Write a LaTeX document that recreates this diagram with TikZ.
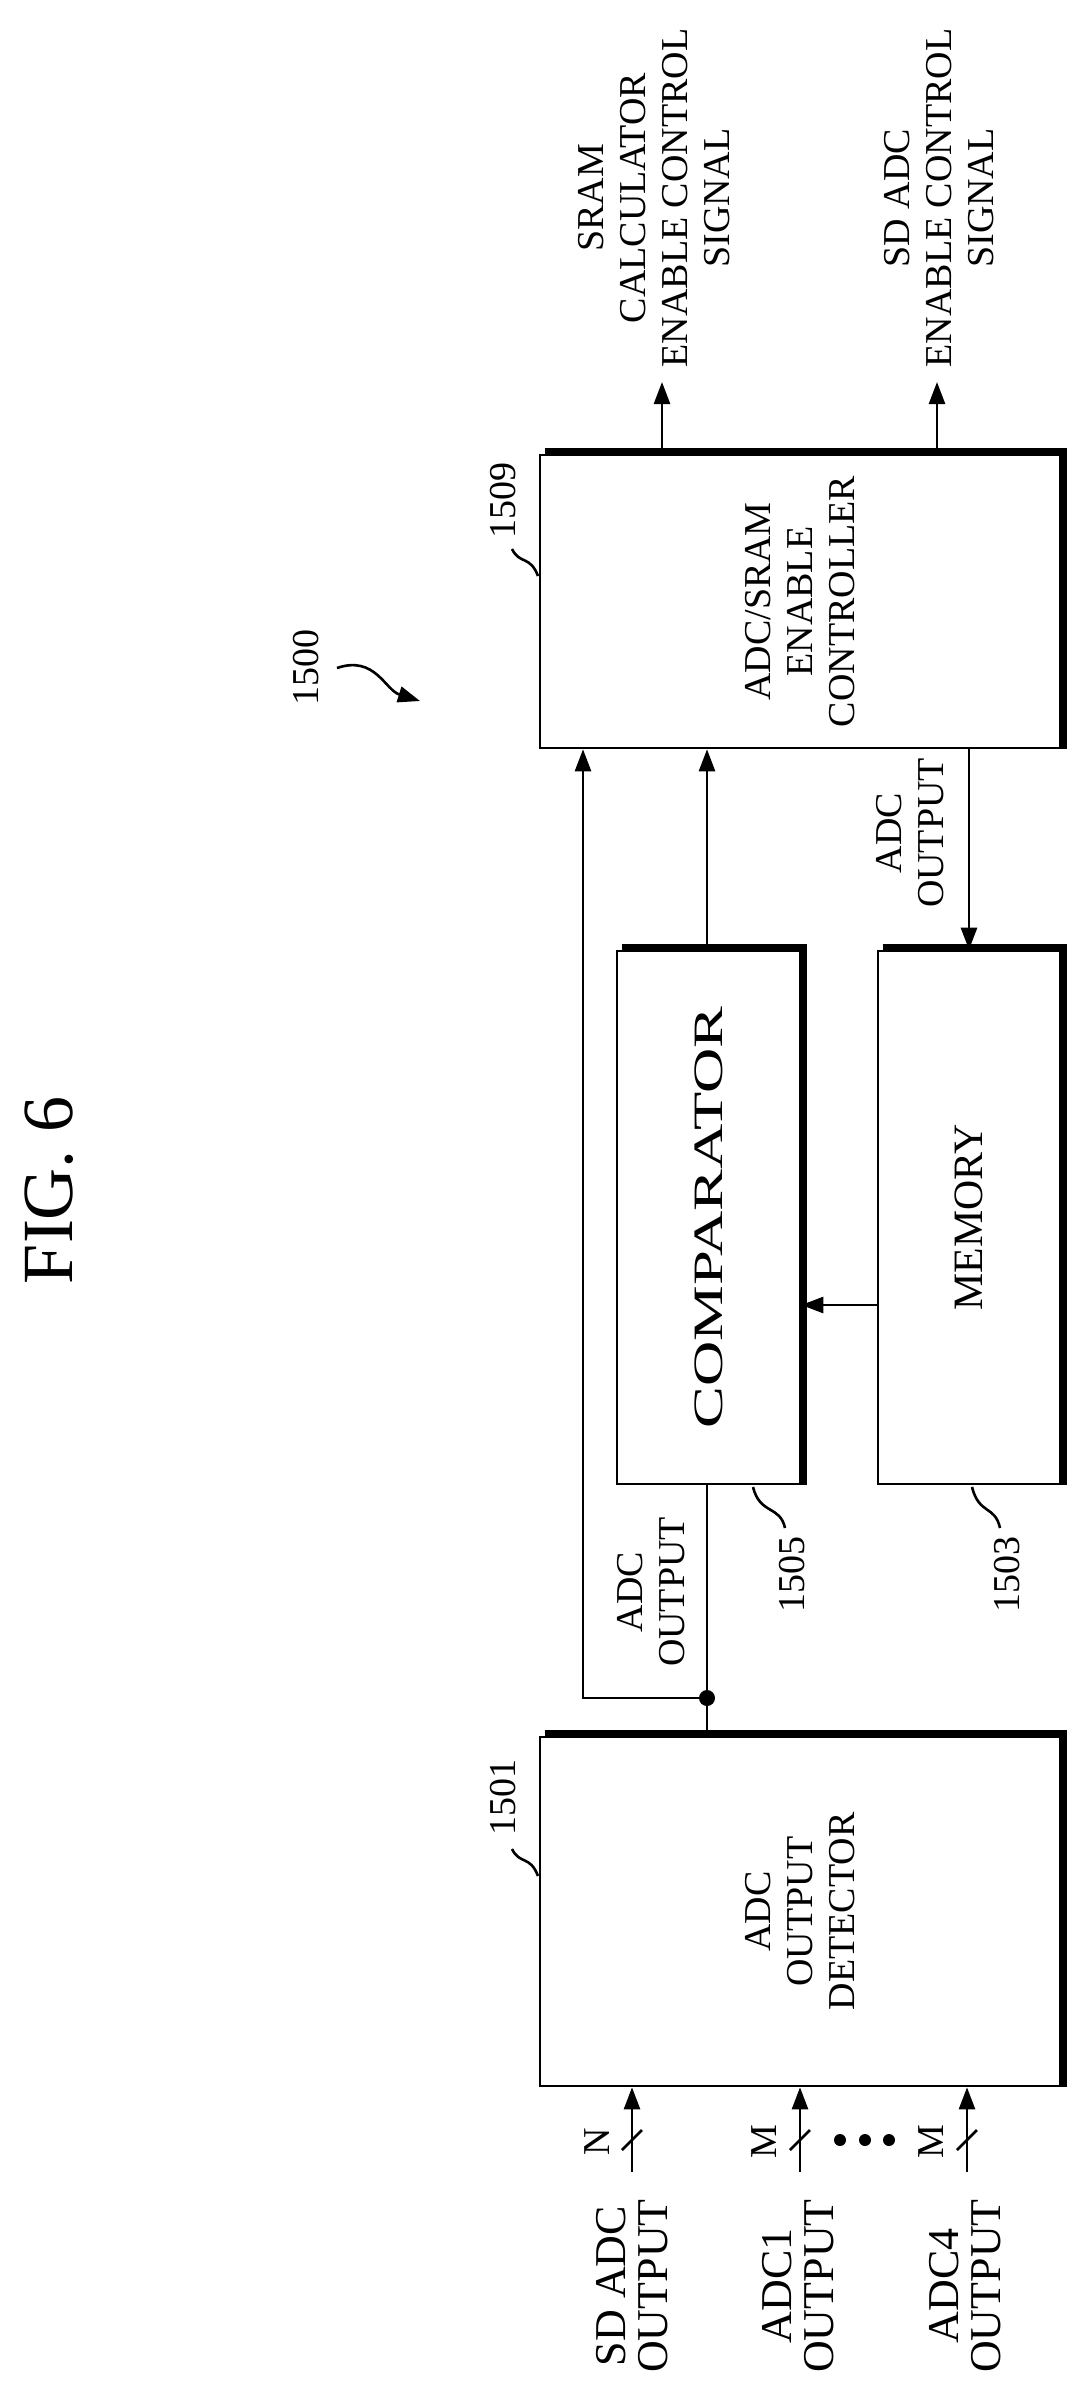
\documentclass[tikz,border=0pt]{standalone}
\usepackage{fontspec}
\setmainfont{Liberation Serif}
\usetikzlibrary{arrows.meta}
\begin{document}
\begin{tikzpicture}[x=0.5pt,y=-0.5pt,
  font=\fontsize{19}{21}\selectfont,
  box/.style={draw,line width=1.3pt,inner sep=0pt},
  txt/.style={rotate=90,align=center,inner sep=0pt},
  arr/.style={line width=1.3pt,-{Triangle[length=11pt,width=8pt]}},
  ln/.style={line width=1.3pt}]
\useasboundingbox (0,0) rectangle (1084,2405);
\newcommand{\shadow}[1]{\draw[line width=2.8pt] ([xshift=3pt,yshift=1.4pt]#1.north west) -- ([xshift=1.4pt,yshift=1.4pt]#1.north east) -- ([xshift=1.4pt]#1.south east);}
% boxes
\node[box,minimum width=260pt,minimum height=146.5pt] (ctrl) at (800,601.5) {};
\node[box,minimum width=91.5pt,minimum height=266.5pt] (comp) at (708.5,1217.5) {};
\node[box,minimum width=91pt,minimum height=266.5pt] (mem) at (969,1217.5) {};
\node[box,minimum width=260pt,minimum height=174.5pt] (det) at (800,1911.5) {};
\shadow{ctrl}\shadow{comp}\shadow{mem}\shadow{det}
\node[txt] (ctrlt) at (ctrl) {ADC/SRAM\\ENABLE\\CONTROLLER};
\node[txt] (compt) at (comp) {\scalebox{1.65}[1.1]{COMPARATOR}};
\node[txt] (memt) at (mem) {\scalebox{1.1}[1.1]{MEMORY}};
\node[txt] (dett) at (det) {ADC\\OUTPUT\\DETECTOR};
% coordinates
\coordinate (j) at (707,1698);
\coordinate (b) at (583,1698);
\coordinate (m) at (878,1305);
\coordinate (c) at (969,748);
\coordinate (o1) at (662,382);
\coordinate (o2) at (937,382);
\coordinate (i1) at (632,2172);
\coordinate (i2) at (800,2172);
\coordinate (i3) at (967,2172);
% connectors
\draw[ln] (det.north -| j) -- (comp.south -| j);
\fill (j) circle (4pt);
\draw[arr] (j) -- (b) -- (b |- ctrl.south);
\draw[arr] (comp.north -| j) -- (ctrl.south -| j);
\draw[arr] (m) -- (m -| comp.east);
\draw[arr] (c) -- (c |- mem.north);
\draw[arr] (ctrl.north -| o1) -- (o1);
\draw[arr] (ctrl.north -| o2) -- (o2);
\foreach \i in {i1,i2,i3}{
  \draw[arr] (\i) -- (\i |- det.south);
  \draw[ln] ([xshift=-5pt,yshift=-5pt]\i |- 0,2140) -- ([xshift=5pt,yshift=5pt]\i |- 0,2140);
}
% labels
\node[txt] (l1) at (654,198) {SRAM\\CALCULATOR\\ENABLE CONTROL\\SIGNAL};
\node[txt] (l2) at (939,198) {SD ADC\\ENABLE CONTROL\\SIGNAL};
\node[txt] (l3) at (910,833) {ADC\\OUTPUT};
\node[txt] (l4) at (651,1592) {ADC\\OUTPUT};
\node[txt] (n1500) at (306,667) {1500};
\draw[arr] (337,668) .. controls (375,655) and (385,690) .. (420,701);
\node[txt] (n1509) at (503,500) {1509};
\draw[ln] (538,576) .. controls (530,555) and (520,565) .. (512,549);
\node[txt] (n1505) at (792,1574) {1505};
\draw[ln] (753,1487) .. controls (760,1515) and (780,1505) .. (785,1528);
\node[txt] (n1503) at (1007,1574) {1503};
\draw[ln] (972,1487) .. controls (979,1515) and (995,1505) .. (1000,1528);
\node[txt] (n1501) at (503,1797) {1501};
\draw[ln] (538,1876) .. controls (530,1855) and (520,1865) .. (512,1849);
\node[txt] (nN) at (597,2142) {N};
\node[txt] (nM1) at (764,2142) {M};
\node[txt] (nM2) at (931,2142) {M};
\foreach \x in {840,865,889} \fill (\x,2140) circle (3pt);
\node[txt,font=\fontsize{22}{21}\selectfont] (in1) at (632,2286) {SD ADC\\OUTPUT};
\node[txt,font=\fontsize{22}{21}\selectfont] (in2) at (798,2286) {ADC1\\OUTPUT};
\node[txt,font=\fontsize{22}{21}\selectfont] (in3) at (965,2286) {ADC4\\OUTPUT};
\node[txt,font=\fontsize{36}{40}\selectfont] (fig) at (49,1190) {FIG. 6};
\end{tikzpicture}
\end{document}
